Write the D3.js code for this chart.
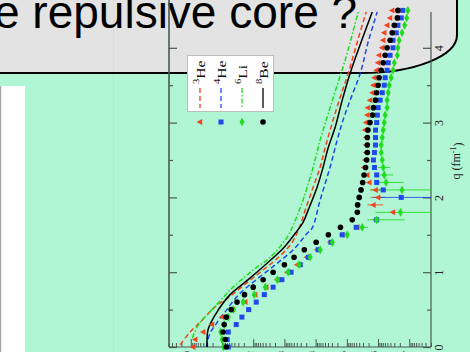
<!DOCTYPE html>
<html>
<head>
<meta charset="utf-8">
<script src="https://cdn.jsdelivr.net/npm/d3@7"></script>
<style>
  html, body { margin: 0; padding: 0; overflow: hidden; background: #b1f6d4; }
  svg { display: block; }
</style>
</head>
<body>
<svg id="slide" width="470" height="352"></svg>
<script>
// ---- data -------------------------------------------------------------
// momentum transfer grid of the calculated points (fm^-1)
const qPts = [0.0, 0.1, 0.2, 0.3, 0.4, 0.5, 0.6, 0.7, 0.8, 0.9,
              1.0, 1.1, 1.2, 1.3, 1.4, 1.5, 1.6, 1.7, 1.8, 1.9,
              2.0, 2.1, 2.2, 2.3, 2.4, 2.5, 2.6, 2.7, 2.8, 2.9,
              3.0, 3.1, 3.2, 3.3, 3.4, 3.5, 3.6, 3.7, 3.8, 3.9,
              4.0, 4.1, 4.2, 4.3, 4.4, 4.5];

const he3Pts = [0.84, 0.72, 0.40, 0.21, 9.9e-2, 4.4e-2, 1.8e-2, 8.6e-3, 3.8e-3, 1.7e-3,
                8.1e-4, 3.9e-4, 1.9e-4, 8.9e-5, 3.4e-5, 1.4e-5, 4.6e-6, 1.2e-6, 3.3e-7, 1.4e-6,
                9.9e-7, 1.2e-6, 1.9e-6, 2.2e-6, 2.8e-6, 2.6e-6, 2.4e-6, 2.4e-6, 2.4e-6, 2.6e-6,
                2.4e-6, 2.2e-6, 2.1e-6, 1.8e-6, 1.5e-6, 1.4e-6, 1.3e-6, 1.1e-6, 9.9e-7, 9.2e-7,
                7.3e-7, 6.8e-7, 6.3e-7, 5.1e-7, 4.1e-7, 3.5e-7];

const he4Pts = [6.3e-2, 6.8e-2, 6.3e-2, 3.5e-2, 2.3e-2, 1.4e-2, 8.0e-3, 4.4e-3, 2.3e-3, 1.2e-3,
                6.1e-4, 3.1e-4, 1.7e-4, 8.3e-5, 3.2e-5, 1.4e-5, 5.0e-6, 1.1e-6, null, null,
                1.8e-7, 6.8e-7, 1.1e-6, 1.1e-6, 1.3e-6, 1.4e-6, 1.3e-6, 1.2e-6, 1.2e-6, 1.2e-6,
                1.1e-6, 1.05e-6, 9.9e-7, 8.5e-7, 7.3e-7, 6.3e-7, 5.9e-7, 5.1e-7, 4.7e-7, 4.1e-7,
                3.3e-7, 3.3e-7, 2.6e-7, 2.3e-7, 1.8e-7, 1.6e-7];

const li6Pts = [9.0e-2, 9.9e-2, 0.11, 8.5e-2, 6.3e-2, 4.4e-2, 2.1e-2, 9.3e-3, 4.1e-3, 1.7e-3,
                7.6e-4, 3.4e-4, 1.5e-4, 7.1e-5, 2.9e-5, 9.7e-6, 3.2e-6, 1.1e-6, 1.9e-7, null,
                null, 1.7e-7, 5.5e-7, 6.3e-7, 6.8e-7, 7.3e-7, 7.9e-7, 7.9e-7, 7.3e-7, 6.8e-7,
                6.3e-7, 5.9e-7, 5.1e-7, 5.1e-7, 4.7e-7, 4.4e-7, 3.8e-7, 3.3e-7, 3.0e-7, 2.4e-7,
                2.3e-7, 2.1e-7, 1.7e-7, 1.4e-7, 1.2e-7, 1.1e-7];

const be8Pts = [7.3e-2, 7.9e-2, 9.2e-2, 8.5e-2, 7.3e-2, 5.1e-2, 3.3e-2, 1.9e-2, 1.0e-2, 4.8e-3,
                2.3e-3, 1.0e-3, 4.9e-4, 2.3e-4, 9.6e-5, 3.9e-5, 1.6e-5, 6.7e-6, 4.6e-6, 4.5e-6,
                4.0e-6, 3.5e-6, 3.1e-6, 2.8e-6, 2.5e-6, 2.3e-6, 2.2e-6, 2.2e-6, 2.2e-6, 2.1e-6,
                1.8e-6, 1.5e-6, 1.4e-6, 1.2e-6, 1.1e-6, 9.9e-7, 9.2e-7, 7.9e-7, 6.8e-7, 5.9e-7,
                5.1e-7, 4.1e-7, 3.5e-7, 3.0e-7, 2.4e-7, 2.3e-7];

// error bars: [q, lower, upper]
const he3Err = [[1.9, 6.8e-7, 2.2e-6], [2.0, 5.7e-7, 1.7e-6], [2.1, 8.0e-7, 1.8e-6]];
const he4Err = [[2.0, 1e-9, 1.4e-6]];
const li6Err = [[1.6, 2.1e-6, 4.3e-6], [1.7, 1.4e-7, 2.2e-6], [1.8, 1e-9, 1.2e-6],
                [2.1, 1e-9, 1.7e-6], [2.2, 1.5e-7, 1.1e-6], [2.3, 3.3e-7, 8.5e-7],
                [2.4, 4.1e-7, 1.0e-6]];

// model curves
const he3CurveQ = [0.03, 0.20, 0.36, 0.54, 0.66, 0.86, 1.03, 1.22, 1.40, 1.59, 1.83, 2.14, 2.41, 2.67, 2.94, 3.30, 3.66, 4.08, 4.48];
const he3CurveV = [2.19, 1.05, 0.43, 0.165, 6.3e-2, 1.56e-2, 4.8e-3, 1.36e-3, 5.6e-4, 3.36e-4, 2.15e-4, 1.19e-4, 7.1e-5, 4.9e-5, 3.2e-5, 1.75e-5, 9.0e-6, 4.6e-6, 2.4e-6];

const he4CurveQ = [0.0, 0.19, 0.29, 0.39, 0.47, 0.56, 0.72, 0.94, 1.12, 1.30, 1.52, 1.59, 1.97, 2.41, 2.77, 3.04, 3.30, 3.66, 4.08, 4.48];
const he4CurveV = [0.32, 0.24, 0.165, 0.114, 7.9e-2, 5.5e-2, 2.6e-2, 6.0e-3, 1.7e-3, 5.2e-4, 1.86e-4, 1.29e-4, 7.1e-5, 3.4e-5, 2.03e-5, 1.3e-5, 7.8e-6, 3.7e-6, 2.06e-6, 1.06e-6];

const li6CurveQ = [0.12, 0.27, 0.36, 0.43, 0.52, 0.59, 0.80, 1.03, 1.20, 1.47, 1.63, 1.97, 2.41, 2.77, 3.08, 3.30, 3.84, 4.48];
const li6CurveV = [0.90, 0.62, 0.43, 0.30, 0.19, 0.132, 4.4e-2, 1.0e-2, 2.85e-3, 8.1e-4, 5.2e-4, 2.5e-4, 1.19e-4, 7.1e-5, 4.2e-5, 2.9e-5, 1.12e-5, 4.3e-6];

const be8CurveQ = [0.0, 0.23, 0.43, 0.70, 0.90, 1.12, 1.32, 1.52, 1.67, 1.83, 2.14, 2.41, 2.67, 2.94, 3.30, 3.66, 4.08, 4.48];
const be8CurveV = [0.30, 0.28, 0.165, 5.5e-2, 1.45e-2, 3.6e-3, 1.09e-3, 4.5e-4, 2.5e-4, 1.73e-4, 8.9e-5, 5.7e-5, 3.9e-5, 2.35e-5, 1.4e-5, 7.8e-6, 3.45e-6, 1.53e-6];

const qMajor = [0, 1, 2, 3, 4];
const qMinor = [0.5, 1.5, 2.5, 3.5];
const decades = [1e0, 1e-1, 1e-2, 1e-3, 1e-4, 1e-5, 1e-6, 1e-7];
const decadeExp = ["0", "-1", "-2", "-3", "-4", "-5", "-6", "-7"];

const heading = "e repulsive core ?";

const nuclei = [
  { mass: "3", sym: "He", color: "#f2431f", dash: "5,3",       shape: "tri",  pts: he3Pts, err: he3Err, cq: he3CurveQ, cv: he3CurveV },
  { mass: "4", sym: "He", color: "#1f48ee", dash: "5,3",       shape: "sq",   pts: he4Pts, err: he4Err, cq: he4CurveQ, cv: he4CurveV },
  { mass: "6", sym: "Li", color: "#1fdc1f", dash: "5,2,1.5,2", shape: "dia",  pts: li6Pts, err: li6Err, cq: li6CurveQ, cv: li6CurveV },
  { mass: "8", sym: "Be", color: "#000000", dash: null,        shape: "circ", pts: be8Pts, err: [],     cq: be8CurveQ, cv: be8CurveV }
];

// ---- slide backdrop ------------------------------------------------------
const svg = d3.select("#slide");

// callout bubble with the question
svg.append("path")
  .attr("d", "M -10,-10 L 457,-10 L 457,35 A 95,38 0 0 1 362,73 L -10,73 Z")
  .attr("fill", "#e3e3e3")
  .attr("stroke", "#000")
  .attr("stroke-width", 2);

svg.append("text")
  .attr("x", -6).attr("y", 28)
  .attr("font-family", "Liberation Sans, Arial, sans-serif")
  .attr("font-size", 46)
  .attr("fill", "#000")
  .text(heading);

// white panel at the left edge
svg.append("rect").attr("x", 0).attr("y", 86).attr("width", 25).attr("height", 270).attr("fill", "#fff");
svg.append("line").attr("x1", 0.5).attr("x2", 0.5).attr("y1", 86).attr("y2", 352)
  .attr("stroke", "#a8a8a8").attr("stroke-width", 1.5);

// ---- chart (drawn rotated: q runs upward, log scale runs leftward) -------
const y = d3.scaleLinear().domain([0, 4.5]).range([347, 10.4]);
const x = d3.scaleLog().domain([2e-8, 5]).range([431, 169]);

const chart = svg.append("g");

svg.append("defs").append("clipPath").attr("id", "plotclip")
  .append("rect").attr("x", 169).attr("y", 0).attr("width", 262).attr("height", 347);

// frame lines
const axisColor = "#4a5a52";
chart.append("line").attr("x1", 169).attr("x2", 169).attr("y1", 0).attr("y2", 347)
  .attr("stroke", axisColor).attr("stroke-width", 1.6);
chart.append("line").attr("x1", 431).attr("x2", 431).attr("y1", 12).attr("y2", 347)
  .attr("stroke", axisColor).attr("stroke-width", 1.2);
chart.append("line").attr("x1", 169).attr("x2", 431).attr("y1", 347).attr("y2", 347)
  .attr("stroke", axisColor).attr("stroke-width", 1.2);

// q axis on the right (ticks inward, labels outside, rotated)
const qAxis = chart.append("g").attr("transform", "translate(431,0)")
  .call(d3.axisRight(y).tickValues(qMajor).tickSizeInner(-8).tickSizeOuter(0).tickFormat(d3.format("d")));
qAxis.select(".domain").remove();
qAxis.selectAll("line").attr("stroke", axisColor).attr("stroke-width", 1.2);
qAxis.selectAll("text")
  .attr("font-family", "Liberation Serif, Times New Roman, serif")
  .attr("font-size", 12).attr("fill", "#222")
  .attr("x", null).attr("y", null).attr("dy", null)
  .attr("text-anchor", "middle")
  .attr("transform", "translate(12,0) rotate(-90)");

const qAxisMinor = chart.append("g").attr("transform", "translate(431,0)")
  .call(d3.axisRight(y).tickValues(qMinor).tickSizeInner(-4).tickSizeOuter(0).tickFormat(""));
qAxisMinor.select(".domain").remove();
qAxisMinor.selectAll("line").attr("stroke", axisColor).attr("stroke-width", 1.2);

// mirrored q ticks on the left frame
const qAxisL = chart.append("g").attr("transform", "translate(169,0)")
  .call(d3.axisLeft(y).tickValues(qMajor).tickSizeInner(-8).tickSizeOuter(0).tickFormat(""));
qAxisL.select(".domain").remove();
qAxisL.selectAll("line").attr("stroke", axisColor).attr("stroke-width", 1.2);
const qAxisLm = chart.append("g").attr("transform", "translate(169,0)")
  .call(d3.axisLeft(y).tickValues(qMinor).tickSizeInner(-4).tickSizeOuter(0).tickFormat(""));
qAxisLm.select(".domain").remove();
qAxisLm.selectAll("line").attr("stroke", axisColor).attr("stroke-width", 1.2);

// log axis along the bottom
const minorVals = [];
decades.concat([1e-8]).forEach(d => { for (let m = 2; m <= 9; m++) { const v = d * m; if (v >= 2e-8 && v <= 5) minorVals.push(v); } });
const logMajor = chart.append("g").attr("transform", "translate(0,347)")
  .call(d3.axisBottom(x).tickValues(decades).tickSizeInner(-8).tickSizeOuter(0).tickFormat(""));
logMajor.select(".domain").remove();
logMajor.selectAll("line").attr("stroke", axisColor).attr("stroke-width", 1);
const logMinor = chart.append("g").attr("transform", "translate(0,347)")
  .call(d3.axisBottom(x).tickValues(minorVals).tickSizeInner(-4).tickSizeOuter(0).tickFormat(""));
logMinor.select(".domain").remove();
logMinor.selectAll("line").attr("stroke", axisColor).attr("stroke-width", 1);

// decade labels (rotated, running off the bottom edge)
const decLab = chart.append("g").selectAll("text").data(decades).join("text")
  .attr("transform", d => `translate(${x(d) + 3},351) rotate(-90)`)
  .attr("text-anchor", "end")
  .attr("font-family", "Liberation Serif, Times New Roman, serif")
  .attr("font-size", 11).attr("fill", "#333");
decLab.append("tspan").text("10");
decLab.append("tspan").attr("dy", "-0.45em").attr("font-size", 8).text((d, i) => decadeExp[i]);

// ---- curves ---------------------------------------------------------------
const plot = chart.append("g").attr("clip-path", "url(#plotclip)");
const line = d3.line()
  .x(d => x(d[1]))
  .y(d => y(d[0]))
  .curve(d3.curveCatmullRom.alpha(0.5));

nuclei.forEach(n => {
  const pts = n.cq.map((q, i) => [q, n.cv[i]]);
  plot.append("path")
    .attr("d", line(pts))
    .attr("fill", "none")
    .attr("stroke", n.color)
    .attr("stroke-width", 1.5)
    .attr("stroke-dasharray", n.dash);
});

// ---- error bars -------------------------------------------------------
nuclei.forEach(n => {
  plot.append("g").selectAll("line").data(n.err).join("line")
    .attr("x1", d => x(Math.max(d[1], 2e-8)))
    .attr("x2", d => x(d[2]))
    .attr("y1", d => y(d[0])).attr("y2", d => y(d[0]))
    .attr("stroke", n.color).attr("stroke-width", 1).attr("opacity", 0.85);
});

// ---- markers ----------------------------------------------------------
function marker(sel, shape, color) {
  if (shape === "circ") sel.append("circle").attr("r", 2.8).attr("fill", color);
  else if (shape === "sq") sel.append("rect").attr("x", -2.5).attr("y", -2.5).attr("width", 5).attr("height", 5).attr("fill", color);
  else if (shape === "dia") sel.append("path").attr("d", d3.symbol(d3.symbolDiamond, 22)()).attr("fill", color);
  else if (shape === "tri") sel.append("path").attr("d", "M -3.4,0 L 2.2,-3 L 2.2,3 Z").attr("fill", color);
}

nuclei.forEach(n => {
  const data = qPts.map((q, i) => [q, n.pts[i]]).filter(d => d[1] != null);
  const g = chart.append("g").selectAll("g").data(data).join("g")
    .attr("transform", d => `translate(${x(d[1])},${y(d[0])})`);
  marker(g, n.shape, n.color);
});

// ---- legend -----------------------------------------------------------
const legend = chart.append("g");
legend.append("rect").attr("x", 187.5).attr("y", 55.5).attr("width", 86).attr("height", 56)
  .attr("fill", "#fff").attr("stroke", "#bdbdbd").attr("stroke-width", 1);
const legX = [200, 221, 242, 263];
nuclei.forEach((n, i) => {
  const t = legend.append("text")
    .attr("transform", `translate(${legX[i] + 4},84) rotate(-90) scale(1.25,1)`)
    .attr("font-family", "Liberation Serif, Times New Roman, serif")
    .attr("font-size", 12.5).attr("fill", "#111");
  t.append("tspan").attr("font-size", 8.5).attr("dy", "-0.6em").text(n.mass);
  t.append("tspan").attr("dy", "0.45em").text(n.sym);
  legend.append("line").attr("x1", legX[i]).attr("x2", legX[i]).attr("y1", 88).attr("y2", 108)
    .attr("stroke", n.color).attr("stroke-width", 1.3).attr("stroke-dasharray", n.dash);
  const m = legend.append("g").attr("transform", `translate(${legX[i]},122)`);
  marker(m, n.shape, n.color);
});

// axis title
svg.append("text")
  .attr("transform", "translate(460,161) rotate(-90)")
  .attr("text-anchor", "middle")
  .attr("font-family", "Liberation Serif, Times New Roman, serif")
  .attr("font-size", 12).attr("fill", "#222")
  .call(t => {
    t.append("tspan").text("q (fm");
    t.append("tspan").attr("dy", "-0.45em").attr("font-size", 8).text("-1");
    t.append("tspan").attr("dy", "0.45em").text(")");
  });

// faint slide seam
svg.append("line").attr("x1", 113.5).attr("x2", 113.5).attr("y1", 0).attr("y2", 352)
  .attr("stroke", "#000").attr("stroke-opacity", 0.035);
</script>
</body>
</html>
